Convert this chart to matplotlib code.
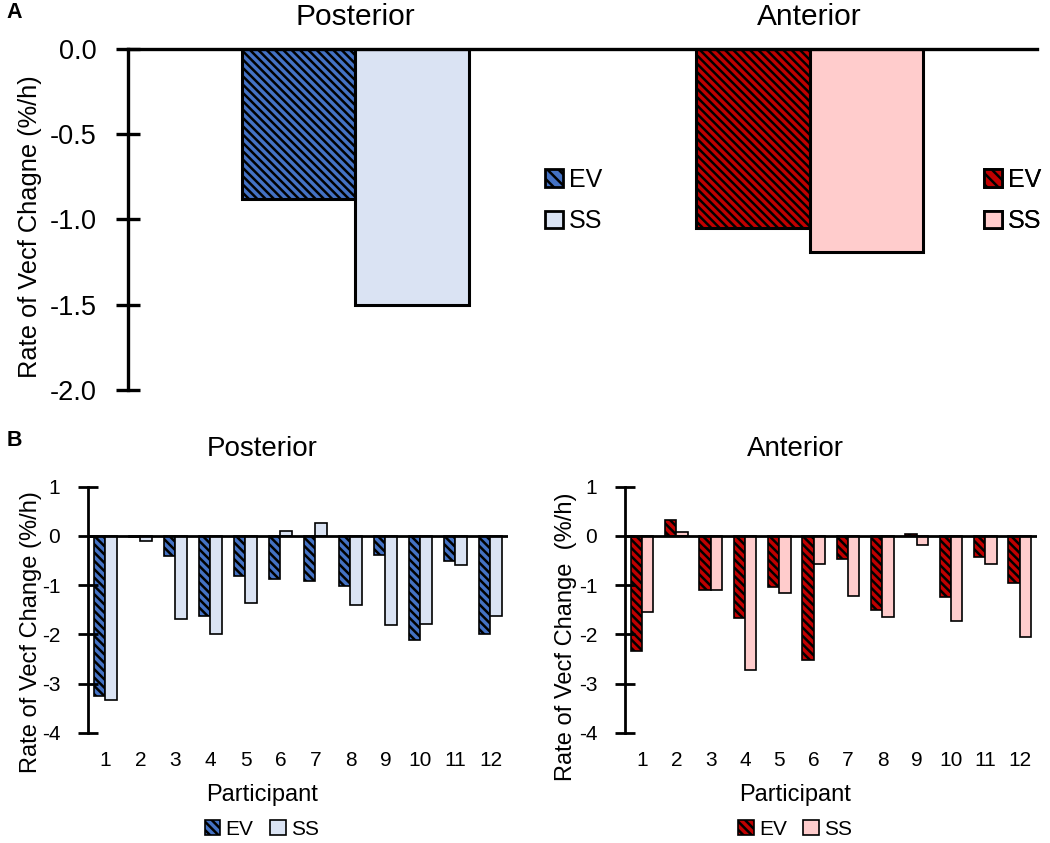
import numpy as np
import matplotlib
matplotlib.use('Agg')
import matplotlib.pyplot as plt
from matplotlib.patches import Patch

plt.rcParams['font.family'] = ['Liberation Sans', 'DejaVu Sans']
plt.rcParams['hatch.linewidth'] = 1.8
plt.rcParams['axes.unicode_minus'] = False

# panel A: group means
regions = ['Posterior', 'Anterior']
ev_mean = [-0.88, -1.05]
ss_mean = [-1.50, -1.19]

# panel B: per participant
participants = [str(i) for i in range(1, 13)]
post_ev = [-3.26, -0.03, -0.41, -1.63, -0.81, -0.87, -0.91, -1.02, -0.39, -2.12, -0.50, -1.99]
post_ss = [-3.33, -0.11, -1.68, -2.00, -1.36, 0.10, 0.26, -1.40, -1.80, -1.78, -0.60, -1.63]
ant_ev = [-2.34, 0.32, -1.09, -1.66, -1.04, -2.52, -0.47, -1.51, 0.03, -1.25, -0.43, -0.95]
ant_ss = [-1.55, 0.08, -1.09, -2.73, -1.16, -0.58, -1.22, -1.64, -0.18, -1.72, -0.58, -2.05]

blue, lblue = '#4472C4', '#DAE3F3'
red, pink = '#C00000', '#FFCCCC'
hatch = '\\\\\\\\'

fig = plt.figure(figsize=(10.5, 8.43), dpi=100)

# ---------------- A ----------------
axA = fig.add_axes([0.1219, 0.5374, 0.8657, 0.4045])
x = np.arange(len(regions))
w = 0.25
axA.bar(x - w / 2, ev_mean, w, color=[blue, red], edgecolor='black', linewidth=2.2, hatch=hatch)
axA.bar(x + w / 2, ss_mean, w, color=[lblue, pink], edgecolor='black', linewidth=2.2)
axA.set_xlim(-0.5, 1.5)
axA.set_ylim(-2.0, 0.0)
axA.set_yticks([0, -0.5, -1.0, -1.5, -2.0])
axA.set_yticklabels(['0.0', '-0.5', '-1.0', '-1.5', '-2.0'])
for s in ['right', 'bottom']:
    axA.spines[s].set_visible(False)
axA.spines['left'].set_linewidth(2.4)
axA.spines['top'].set_linewidth(2.4)
axA.tick_params(axis='y', direction='inout', length=17, width=2.4, labelsize=19.5, pad=14)
axA.set_xticks(x)
axA.set_xticklabels(regions)
axA.tick_params(axis='x', length=0, labeltop=True, labelbottom=False, labelsize=21.5, pad=13)
axA.set_ylabel('Rate of Vecf Chagne (%/h)', fontsize=18.3)
axA.yaxis.set_label_coords(-0.095, 0.48)

for cols, xa in [((blue, lblue), 0.459), ((red, pink), 0.942)]:
    h = [Patch(facecolor=cols[0], edgecolor='black', linewidth=2, hatch='\\\\\\'),
         Patch(facecolor=cols[1], edgecolor='black', linewidth=2)]
    leg = axA.legend(h, ['EV', 'SS'], loc='center left', bbox_to_anchor=(xa, 0.555),
                     frameon=False, fontsize=18, handlelength=0.7, handleheight=0.7,
                     handletextpad=0.25, labelspacing=0.7, borderpad=0, borderaxespad=0)
    axA.add_artist(leg)

fig.text(0.006, 0.985, 'A', fontsize=15.5, fontweight='bold', va='center')
fig.text(0.006, 0.478, 'B', fontsize=15.5, fontweight='bold', va='center')

# ---------------- B ----------------
def panel(rect, ev, ss, c1, c2, title, ylab, lab_x, lab_y, cx):
    ax = fig.add_axes(rect)
    xp = np.arange(len(participants))
    bw = 0.33
    ax.bar(xp - bw / 2, ev, bw, color=c1, edgecolor='black', linewidth=1.2, hatch=hatch, label='EV')
    ax.bar(xp + bw / 2, ss, bw, color=c2, edgecolor='black', linewidth=1.2, label='SS')
    ax.set_xlim(-0.5, len(participants) - 0.5)
    ax.set_ylim(-4, 1)
    ax.set_yticks([1, 0, -1, -2, -3, -4])
    ax.axhline(0, color='black', linewidth=2)
    for s in ['right', 'top', 'bottom']:
        ax.spines[s].set_visible(False)
    ax.spines['left'].set_linewidth(2)
    ax.tick_params(axis='y', direction='inout', length=14, width=2, labelsize=15, pad=13)
    ax.set_xticks(xp)
    ax.set_xticklabels(participants)
    ax.tick_params(axis='x', length=0, labelsize=15, pad=13)
    ax.set_xlabel('Participant', fontsize=17, labelpad=10)
    ax.xaxis.label.set_x(cx)
    ax.set_ylabel(ylab, fontsize=17)
    ax.yaxis.set_label_coords(lab_x, lab_y)
    ax.set_title(title, fontsize=20, pad=22, x=cx)
    ax.legend(loc='upper center', bbox_to_anchor=(cx, -0.355), ncol=2, frameon=False,
              fontsize=15, handlelength=0.75, handleheight=0.75, handletextpad=0.25,
              columnspacing=0.8, borderpad=0, borderaxespad=0)
    return ax

panel([0.0838, 0.1308, 0.4, 0.2918], post_ev, post_ss, blue, lblue,
      'Posterior', 'Rate of Vecf Change (%/h)', -0.11, 0.41, 0.414)
panel([0.5952, 0.1308, 0.3924, 0.2918], ant_ev, ant_ss, red, pink,
      'Anterior', 'Rate of Vecf Change  (%/h)', -0.117, 0.39, 0.413)

fig.savefig('out.png', dpi=100)
